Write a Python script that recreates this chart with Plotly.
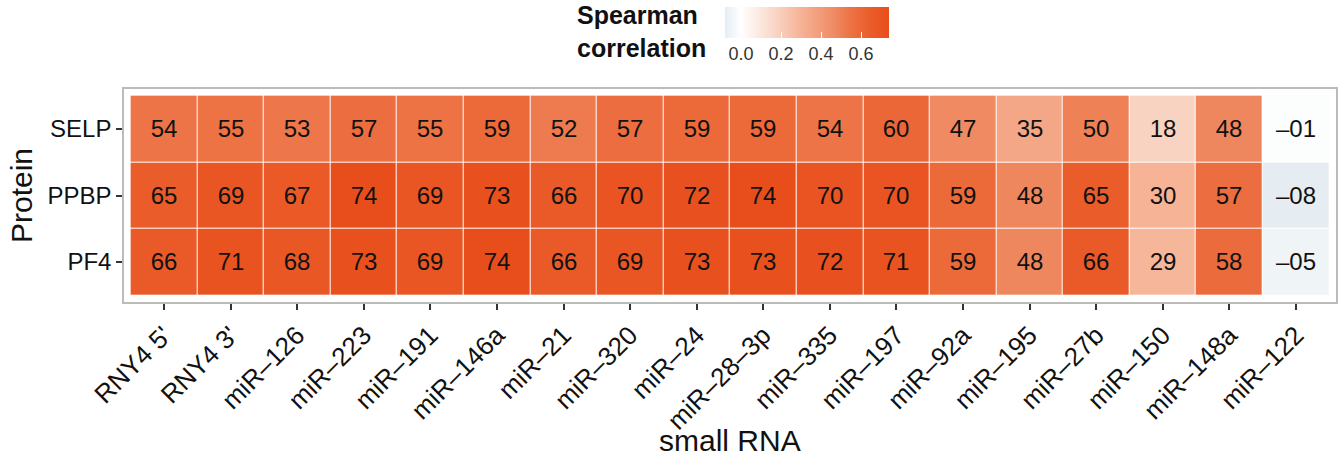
import plotly.graph_objects as go

# Small RNAs (columns) and proteins (rows, top to bottom)
small_rna = ["RNY4 5'", "RNY4 3'", "miR\u2013126", "miR\u2013223", "miR\u2013191",
             "miR\u2013146a", "miR\u201321", "miR\u2013320", "miR\u201324", "miR\u201328\u20133p",
             "miR\u2013335", "miR\u2013197", "miR\u201392a", "miR\u2013195", "miR\u201327b",
             "miR\u2013150", "miR\u2013148a", "miR\u2013122"]
proteins = ["SELP", "PPBP", "PF4"]

# Spearman correlations per protein
selp = [0.54, 0.55, 0.53, 0.57, 0.55, 0.59, 0.52, 0.57, 0.59, 0.59, 0.54, 0.60,
        0.47, 0.35, 0.50, 0.18, 0.48, -0.01]
ppbp = [0.65, 0.69, 0.67, 0.74, 0.69, 0.73, 0.66, 0.70, 0.72, 0.74, 0.70, 0.70,
        0.59, 0.48, 0.65, 0.30, 0.57, -0.08]
pf4 = [0.66, 0.71, 0.68, 0.73, 0.69, 0.74, 0.66, 0.69, 0.73, 0.73, 0.72, 0.71,
       0.59, 0.48, 0.66, 0.29, 0.58, -0.05]

colorbar_ticks = [0.0, 0.2, 0.4, 0.6]

z = [selp, ppbp, pf4]


def label(v):
    n = int(round(abs(v) * 100))
    return ("\u2013" if v < 0 else "") + f"{n:02d}"


text = [[label(v) for v in row] for row in z]

zmin, zmax = -0.08, 0.74
stops = [(-0.08, "#e6edf2"), (0.0, "#ffffff"), (0.18, "#f9d3c2"), (0.30, "#f6b396"),
         (0.47, "#ef8a62"), (0.54, "#ed7447"), (0.65, "#ea5c29"), (0.74, "#e84e1c")]
colorscale = [[(v - zmin) / (zmax - zmin), c] for v, c in stops]

FONT = "Liberation Sans, Arial, Helvetica, sans-serif"

fig = go.Figure(go.Heatmap(
    x=small_rna, y=proteins, z=z, text=text,
    texttemplate="%{text}", textfont=dict(size=24, color="#111111", family=FONT),
    colorscale=colorscale, zmin=zmin, zmax=zmax, xgap=1, ygap=1,
    colorbar=dict(
        orientation="h", xref="container", yref="container",
        x=804 / 1344, xanchor="left", y=1 - 7 / 465, yanchor="top",
        lenmode="pixels", len=164, thickness=31, xpad=0, ypad=0,
        outlinewidth=0, tickvals=colorbar_ticks, ticktext=["0.0", "0.2", "0.4", "0.6"],
        ticks="inside", ticklen=6, tickcolor="white", tickwidth=1,
        tickfont=dict(size=18, color="#333333", family=FONT),
    ),
))

# Legend title
fig.add_annotation(
    text="<b>Spearman<br>correlation</b>", xref="paper", yref="paper",
    x=(577 - 124) / 1214, y=(302 - 32) / 213, xanchor="left", yanchor="middle",
    align="left", showarrow=False, borderpad=0,
    font=dict(size=25, color="#111111", family=FONT),
)

# x-axis title placed below the rotated tick labels
fig.add_annotation(
    text="small RNA", xref="paper", yref="paper",
    x=0.5, y=(302 - 440) / 213, xanchor="center", yanchor="middle",
    showarrow=False, font=dict(size=30, color="#111111", family=FONT),
)

fig.update_xaxes(
    range=[-0.6, len(small_rna) - 0.4], tickangle=-45,
    ticks="outside", ticklen=6, tickwidth=1.5, tickcolor="#333333",
    tickfont=dict(size=26, color="#111111", family=FONT),
    showline=True, mirror=True, linecolor="#bbbbbb", linewidth=1.5,
    showgrid=False, zeroline=False,
)
fig.update_yaxes(
    range=[len(proteins) - 0.4, -0.6],
    ticks="outside", ticklen=6, tickwidth=1.5, tickcolor="#333333",
    tickfont=dict(size=24, color="#111111", family=FONT),
    showline=True, mirror=True, linecolor="#bbbbbb", linewidth=1.5,
    showgrid=False, zeroline=False,
    title=dict(text="Protein", font=dict(size=30, color="#111111", family=FONT), standoff=6),
)

fig.update_layout(
    width=1344, height=465,
    margin=dict(l=124, r=6, t=89, b=163),
    paper_bgcolor="white", plot_bgcolor="white",
    font=dict(family=FONT),
)

fig.write_html("out.html")
